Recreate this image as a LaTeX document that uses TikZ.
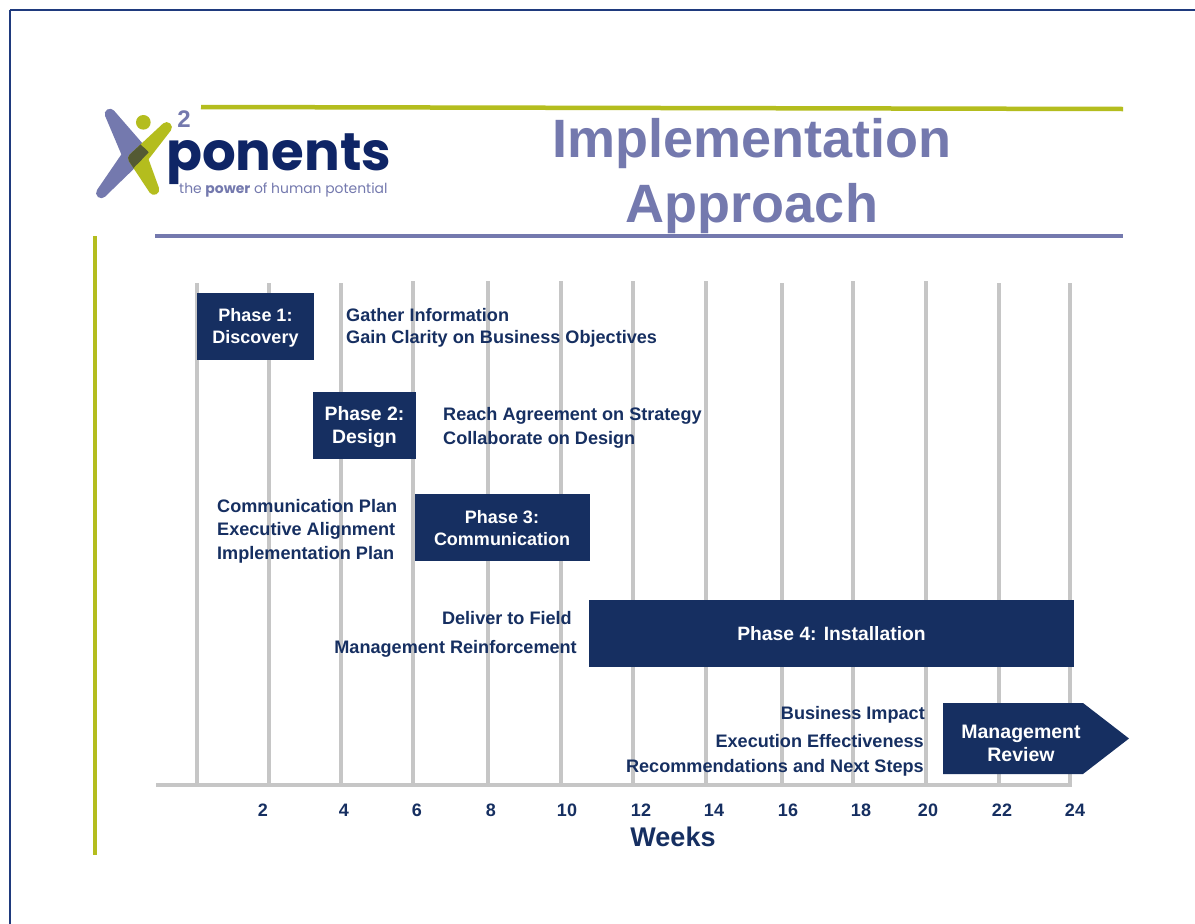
\documentclass[tikz,border=0pt]{standalone}
\usepackage{fontspec}
\setmainfont{Liberation Sans}
\newfontfamily\logofont{Poppins}
\definecolor{navy}{HTML}{162F61}
\definecolor{logonavy}{HTML}{0F2566}
\definecolor{framec}{HTML}{1F3A7D}
\definecolor{lav}{HTML}{7479AE}
\definecolor{olive}{HTML}{B4BD1E}
\definecolor{overlapc}{HTML}{545A33}
\definecolor{gridc}{HTML}{C6C6C6}
\begin{document}
\begin{tikzpicture}[x=1pt,y=-1pt,
 phase/.style={fill=navy,inner sep=0pt,anchor=north west,minimum height=67pt},
 phasetext/.style={text=white,align=center,inner sep=0pt},
 lbl/.style={text=navy,font=\fontsize{18.1}{23}\selectfont\bfseries,inner sep=0pt},
 tick/.style={text=navy,font=\fontsize{18}{20}\selectfont\bfseries,inner sep=0pt},
 gridl/.style={draw=gridc,line width=3.6pt},
 logoarm/.style={line width=10.5pt,line join=round}]
\useasboundingbox (0,0) rectangle (1195,924);
\fill[white] (0,0) rectangle (1195,924);
\draw[framec,line width=2pt] (9.5,9.5) -- (1195,9.5);
\draw[framec,line width=2pt] (9.5,9.5) -- (9.5,924);
% header rules
\draw[olive,line width=4.5pt] (201,107) -- (1123,109);
\draw[lav,line width=4.5pt] (155,236) -- (1123,236);
\draw[olive,line width=4.5pt] (95,236) -- (95,855);
% title
\node[text=lav,font=\fontsize{54}{65}\selectfont\bfseries,align=center,inner sep=0pt] (title) at (752,176) {Implementation\\Approach};
% logo
\begin{scope}[shift={(80,90)},x=0.3333pt,y=-0.3333pt]
 \def\lavpath{(90,72) -- (190,187) -- (64,309) -- (142,195) -- cycle}
 \def\olvpath{(260,112) -- (160,205) -- (222,299) -- (188,205) -- cycle}
 \filldraw[lav,logoarm] \lavpath;
 \filldraw[olive,logoarm] \olvpath;
 \begin{scope}
  \clip (72,55) -- (206,187) -- (70,328) -- (40,305) -- (127,195) -- (70,75) -- cycle;
  \filldraw[overlapc,logoarm] \olvpath;
 \end{scope}
 \fill[olive] (190,97) circle (22);
\end{scope}
\node[text=lav,font=\fontsize{24}{24}\selectfont\bfseries,inner sep=0pt] (two) at (184,119) {2};
\node[text=logonavy,font=\logofont\fontsize{53}{53}\selectfont\bfseries,inner sep=0pt,anchor=base west] (ponents) at (166,170) {ponents};
\node[text=lav,font=\logofont\fontsize{13.9}{16}\selectfont,inner sep=0pt,anchor=base west] (tag) at (179,193.5) {the \textbf{power} of human potential};
% grid
\foreach \n/\x/\t in {a/197/283,b/269/283,c/341/283,d/413/281,e/488/281,f/561/281,g/633/281,h/706/281,i/782/283,j/853/281,k/926/281,l/999/283,m/1070/283}{
 \coordinate (top\n) at (\x,\t);
 \coordinate (bot\n) at (\x,785);
 \draw[gridl] (top\n) -- (bot\n);
}
\coordinate (axl) at (156,785);
\coordinate (axr) at (1072,785);
\draw[gridl] (axl) -- (axr);
% ticks
\foreach \x/\t in {263/2,344/4,417/6,491/8,567/10,641/12,714/14,788/16,861/18,928/20,1002/22,1075/24}
 \node[tick] (t\t) at (\x,810) {\t};
\node[text=navy,font=\fontsize{27}{28}\selectfont\bfseries,inner sep=0pt] (weeks) at (673,837) {Weeks};
% phases
\node[phase,minimum width=116.5pt] (p1) at (197,292.5) {};
\node[phasetext,font=\fontsize{18}{22}\selectfont\bfseries] (p1t) at (255.5,328) {Phase 1:\\Discovery};
\node[phase,minimum width=103pt] (p2) at (313,391.5) {};
\node[phasetext,font=\fontsize{19.4}{23}\selectfont\bfseries] (p2t) at (364.5,427) {Phase 2:\\Design};
\node[phase,minimum width=175.5pt] (p3) at (414.5,494) {};
\node[phasetext,font=\fontsize{18}{22}\selectfont\bfseries] (p3t) at (502,528.5) {Phase 3:\\Communication};
\node[phase,minimum width=485pt] (p4) at (589,600) {};
\node[phasetext,font=\fontsize{19.3}{23}\selectfont\bfseries] (p4t) at (831.5,633.5) {Phase 4: Installation};
\fill[navy] (943,703) -- (1083,703) -- (1129,738.5) -- (1083,774) -- (943,774) -- cycle;
\node[phasetext,font=\fontsize{19.5}{23}\selectfont\bfseries] (p5) at (1021,743.5) {Management\\Review};
% labels
\node[lbl,anchor=base west] (a1) at (346,321) {Gather Information};
\node[lbl,anchor=base west] (a2) at (346,343) {Gain Clarity on Business Objectives};
\node[lbl,anchor=base west] (b1) at (443,420) {Reach Agreement on Strategy};
\node[lbl,anchor=base west] (b2) at (443,444) {Collaborate on Design};
\node[lbl,anchor=base west] (c1) at (217,512) {Communication Plan};
\node[lbl,anchor=base west] (c2) at (217,535) {Executive Alignment};
\node[lbl,anchor=base west] (c3) at (217,559) {Implementation Plan};
\node[lbl,anchor=base east] (d1) at (572,624) {Deliver to Field};
\node[lbl,anchor=base east] (d2) at (577,653) {Management Reinforcement};
\node[lbl,anchor=base east] (e1) at (925,719) {Business Impact};
\node[lbl,anchor=base east] (e2) at (924,747) {Execution Effectiveness};
\node[lbl,anchor=base east] (e3) at (924,772) {Recommendations and Next Steps};
\end{tikzpicture}
\end{document}
